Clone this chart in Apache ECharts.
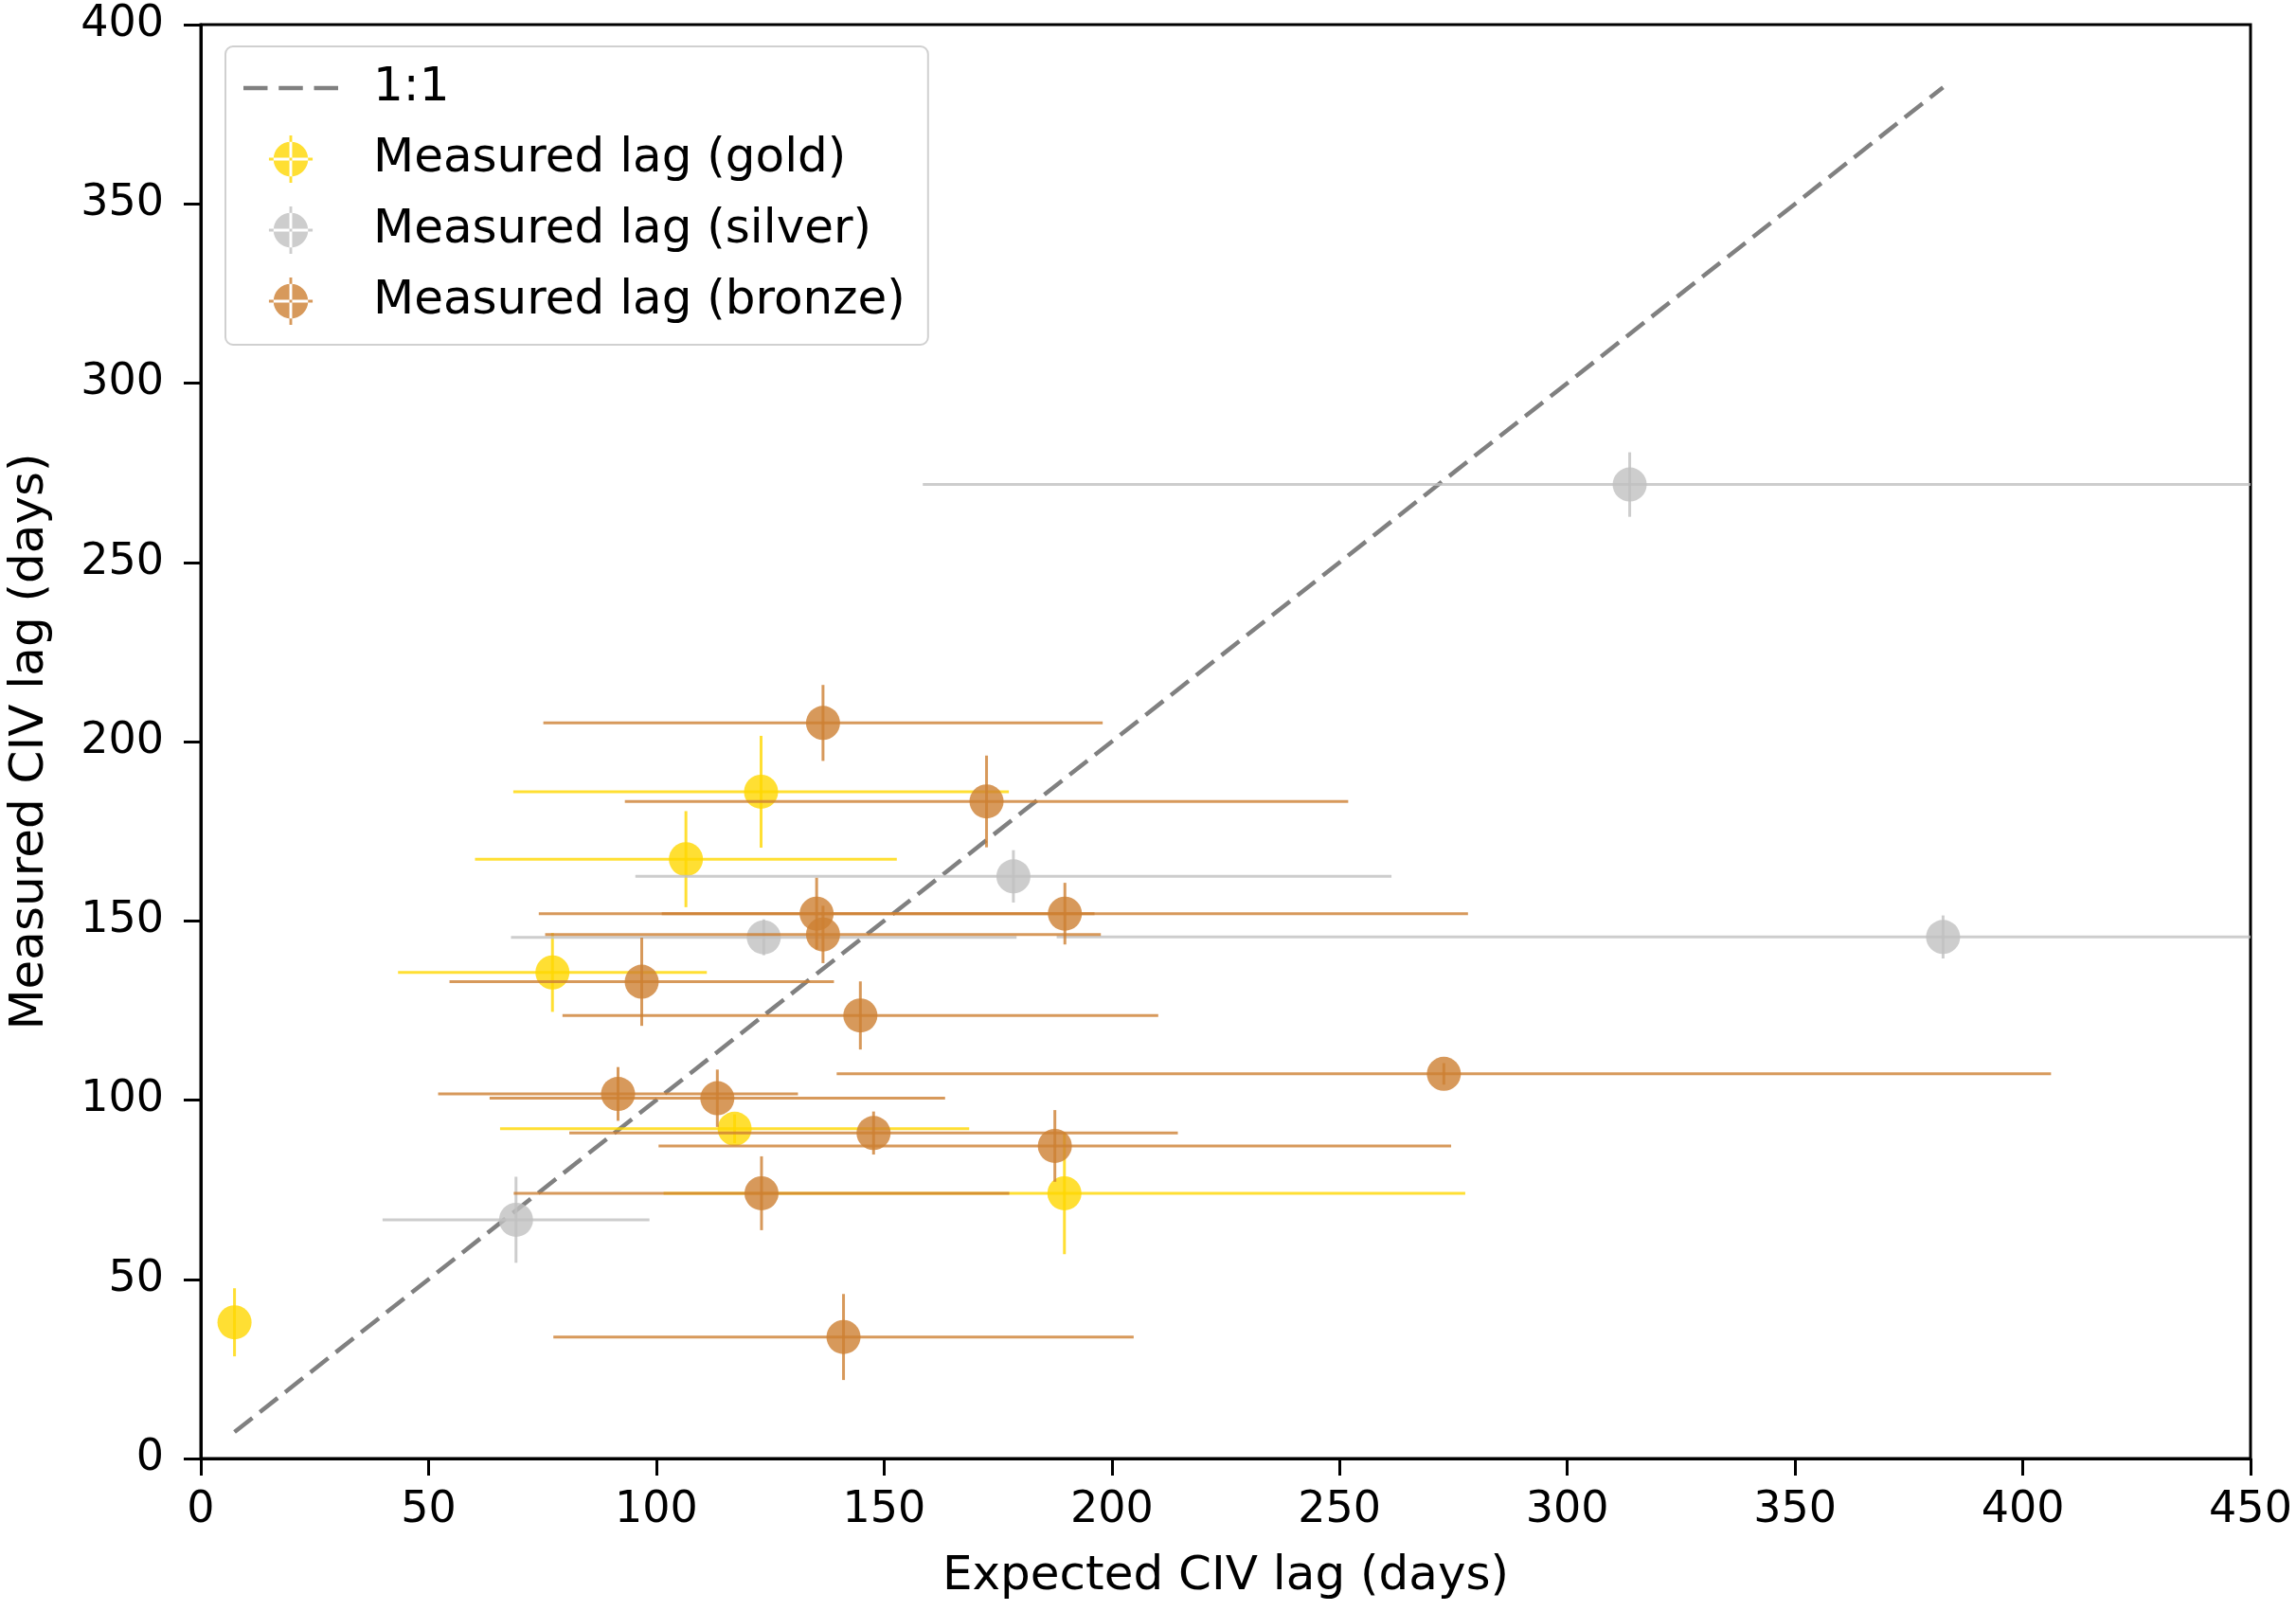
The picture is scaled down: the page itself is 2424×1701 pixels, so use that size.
<!DOCTYPE html>
<html>
<head>
<meta charset="utf-8">
<script src="https://cdn.jsdelivr.net/npm/echarts@6/dist/echarts.min.js"></script>
<style>
html,body{margin:0;padding:0;background:#fff;}
#chart{width:2424px;height:1701px;}
</style>
</head>
<body>
<div id="chart"></div>
<script>
// ---- data ----
const xTicks = [0, 50, 100, 150, 200, 250, 300, 350, 400, 450];
const yTicks = [0, 50, 100, 150, 200, 250, 300, 350, 400];

const goldX    = [7.4, 77.2, 106.5, 123.0, 117.2, 189.6];
const goldY    = [38.0, 135.6, 167.2, 186.0, 92.0, 74.0];
const goldXErr = [0, 33.9, 46.3, 54.4, 51.5, 88.0];
const goldYErr = [9.5, 11, 13.4, 15.6, 4, 17];

const silverX    = [69.2, 123.6, 178.4, 313.7, 382.5];
const silverY    = [66.6, 145.4, 162.4, 271.7, 145.5];
const silverXErr = [29.3, 55.5, 83.0, 155.2, 194.6];
const silverYErr = [12, 5, 7.3, 9, 6];

const bronzeX    = [136.6, 172.5, 135.2, 136.6, 96.8, 189.7, 144.8, 272.9, 91.6, 113.4, 147.7, 187.5, 123.1, 141.1];
const bronzeY    = [205.2, 183.3, 152.0, 146.2, 133.0, 152.0, 123.6, 107.3, 101.7, 100.5, 90.8, 87.2, 74.0, 33.9];
const bronzeXErr = [61.4, 79.4, 61.0, 61.0, 42.2, 88.5, 65.4, 133.3, 39.5, 50.0, 66.8, 87.0, 54.4, 63.7];
const bronzeYErr = [10.6, 12.8, 10, 8, 12.3, 8.6, 9.5, 3, 7.5, 8, 6, 10, 10.3, 12];

const oneToOne = [[7.4, 7.4], [382.5, 382.5]];

const seriesNames = ['1:1', 'Measured lag (gold)', 'Measured lag (silver)', 'Measured lag (bronze)'];
const colors = { gold: '#FFD700', silver: '#C0C0C0', bronze: '#CD7F32' };

function build(xs, ys, xe, ye) {
  return xs.map((x, i) => [x, ys[i], xe[i], ye[i]]);
}

const FONT = 'DejaVu Sans';
const ALPHA = 0.8;
const MARKER_R = 18;
const LW = 3;

function renderErr(color) {
  return function (params, api) {
    const cs = params.coordSys;
    const x = api.value(0), y = api.value(1), xe = api.value(2), ye = api.value(3);
    const c = api.coord([x, y]);
    const l = api.coord([x - xe, y]);
    const r = api.coord([x + xe, y]);
    const t = api.coord([x, y + ye]);
    const b = api.coord([x, y - ye]);
    const minX = cs.x, maxX = cs.x + cs.width;
    const lx = Math.max(minX, l[0]), rx = Math.min(maxX, r[0]);
    const children = [];
    if (xe > 0) {
      children.push({ type: 'line', shape: { x1: lx, y1: c[1], x2: rx, y2: c[1] },
        style: { stroke: color, lineWidth: LW, opacity: ALPHA } });
    }
    if (ye > 0) {
      children.push({ type: 'line', shape: { x1: c[0], y1: t[1], x2: c[0], y2: b[1] },
        style: { stroke: color, lineWidth: LW, opacity: ALPHA } });
    }
    children.push({ type: 'circle', shape: { cx: c[0], cy: c[1], r: MARKER_R },
      style: { fill: color, opacity: ALPHA } });
    return { type: 'group', children: children };
  };
}

const errIcon = 'path://M7,26 A19,19 0 1,0 45,26 A19,19 0 1,0 7,26 Z M24.5,0 L27.5,0 L27.5,52 L24.5,52 Z M2,24.5 L50,24.5 L50,27.5 L2,27.5 Z';
const dashIcon = 'path://M0,0 L26,0 L26,4.5 L0,4.5 Z M38,0 L64,0 L64,4.5 L38,4.5 Z M76,0 L102,0 L102,4.5 L76,4.5 Z';

const chart = echarts.init(document.getElementById('chart'), null, { renderer: 'canvas' });

const option = {
  backgroundColor: '#ffffff',
  animation: false,
  grid: { left: 212, right: 48, top: 26, bottom: 161, show: true, borderColor: '#000', borderWidth: 3,
    backgroundColor: 'transparent', containLabel: false, outerBoundsMode: 'none' },
  legend: {
    orient: 'vertical',
    left: 238, top: 49,
    padding: [19, 24, 21, 19],
    itemWidth: 100, itemHeight: 50, itemGap: 25,
    backgroundColor: 'rgba(255,255,255,0.8)',
    borderColor: '#d0d0d0', borderWidth: 2, borderRadius: 8,
    textStyle: { fontFamily: FONT, fontSize: 50, color: '#000', padding: [0, 0, 0, 32] },
    data: [
      { name: seriesNames[0], icon: dashIcon, itemStyle: { color: '#808080' } },
      { name: seriesNames[1], icon: errIcon },
      { name: seriesNames[2], icon: errIcon },
      { name: seriesNames[3], icon: errIcon }
    ]
  },
  xAxis: {
    type: 'value', min: 0, max: 450, interval: 50,
    name: 'Expected CIV lag (days)', nameLocation: 'middle', nameGap: 100,
    nameMoveOverlap: false,
    nameTextStyle: { fontFamily: FONT, fontSize: 50, color: '#000' },
    axisLine: { show: true, onZero: false, lineStyle: { color: '#000', width: 3 } },
    axisTick: { show: true, inside: false, length: 18, lineStyle: { color: '#000', width: 3 } },
    axisLabel: { fontFamily: FONT, fontSize: 46, color: '#000', margin: 32,
      formatter: v => xTicks.includes(v) ? String(v) : '' },
    splitLine: { show: false }
  },
  yAxis: {
    type: 'value', min: 0, max: 400, interval: 50,
    name: 'Measured CIV lag (days)', nameLocation: 'middle', nameGap: 155,
    nameMoveOverlap: false,
    nameTextStyle: { fontFamily: FONT, fontSize: 50, color: '#000' },
    axisLine: { show: true, onZero: false, lineStyle: { color: '#000', width: 3 } },
    axisTick: { show: true, inside: false, length: 18, lineStyle: { color: '#000', width: 3 } },
    axisLabel: { fontFamily: FONT, fontSize: 46, color: '#000', margin: 39,
      formatter: v => yTicks.includes(v) ? String(v) : '' },
    splitLine: { show: false }
  },
  series: [
    {
      name: seriesNames[0], type: 'line', data: oneToOne, symbol: 'none', z: 1,
      lineStyle: { color: '#808080', width: 4.5, type: [24, 10] },
      itemStyle: { color: '#808080' }
    },
    {
      name: seriesNames[1], type: 'custom', z: 2,
      itemStyle: { color: colors.gold, opacity: ALPHA },
      renderItem: renderErr(colors.gold),
      encode: { x: 0, y: 1 },
      data: build(goldX, goldY, goldXErr, goldYErr)
    },
    {
      name: seriesNames[2], type: 'custom', z: 3,
      itemStyle: { color: colors.silver, opacity: ALPHA },
      renderItem: renderErr(colors.silver),
      encode: { x: 0, y: 1 },
      data: build(silverX, silverY, silverXErr, silverYErr)
    },
    {
      name: seriesNames[3], type: 'custom', z: 4,
      itemStyle: { color: colors.bronze, opacity: ALPHA },
      renderItem: renderErr(colors.bronze),
      encode: { x: 0, y: 1 },
      data: build(bronzeX, bronzeY, bronzeXErr, bronzeYErr)
    }
  ]
};
chart.setOption(option);
</script>
</body>
</html>
